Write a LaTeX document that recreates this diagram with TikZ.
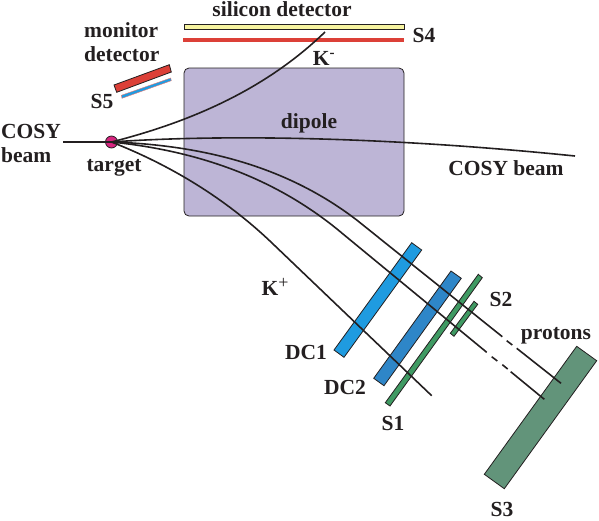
\documentclass[tikz,border=0pt]{standalone}
\usepackage{fontspec}
\setmainfont{Liberation Serif}
\usepackage{tikz}
\usetikzlibrary{calc,positioning}

\definecolor{dipolecol}{HTML}{BDB5D6}
\definecolor{redcol}{HTML}{DC4038}
\definecolor{yellowcol}{HTML}{F6F3A0}
\definecolor{dcone}{HTML}{1F9BE0}
\definecolor{dctwo}{HTML}{2E86C8}
\definecolor{scint}{HTML}{3F9A63}
\definecolor{bigscint}{HTML}{62947A}
\definecolor{targetcol}{HTML}{D6257F}
\definecolor{inkcol}{HTML}{231F20}

\begin{document}
\begin{tikzpicture}[x=1pt,y=-1pt,
    lab/.style={font=\fontsize{21.5}{24}\selectfont\bfseries,text=inkcol,inner sep=0pt,align=left},
    det/.style={draw=inkcol,line width=0.8pt},
    track/.style={draw=inkcol,line width=1.6pt},
    beamline/.style={draw=inkcol,line width=2.2pt}]
  \useasboundingbox (0,0) rectangle (599,520);

  % Dipole and the detectors above it
  \draw[det,fill=dipolecol,rounded corners=5pt] (184,68) rectangle (404,216);
  \draw[det,fill=yellowcol] (184,24) rectangle (404,29.5);
  \fill[redcol] (183,38) rectangle (404,42);

  % Monitor detector
  \draw[det,fill=redcol] (114,85) -- (169.3,64.7) -- (171.3,72) -- (116.7,92.3) -- cycle;
  \draw[draw=redcol!70,line width=0.4pt,fill=dcone] (121.3,95.3) -- (170.7,78) -- (171.3,80.7) -- (122,98.3) -- cycle;

  % Drift chambers and scintillators
  \draw[det,fill=dcone] (411.7,242.7) -- (421.7,250) -- (344,357.3) -- (334,350) -- cycle;
  \draw[det,fill=dctwo] (451,271) -- (461.3,278.3) -- (384,385.7) -- (373.7,378.3) -- cycle;
  \draw[det,fill=scint] (478.3,274.3) -- (482.3,277.7) -- (390,406) -- (385.3,402.7) -- cycle;
  \draw[det,fill=scint] (474,301.3) -- (477.7,304.3) -- (454,336.3) -- (450.3,333.3) -- cycle;
  \draw[det,fill=bigscint] (576.7,346.3) -- (596.7,360.7) -- (504.3,488.7) -- (484.3,474.3) -- cycle;

  % Target
  \node[circle,draw=inkcol,line width=0.8pt,fill=targetcol,minimum size=12pt,inner sep=0pt] (target) at (111.5,142) {};
  \coordinate (beamin) at (63,142);
  \coordinate (beamout) at (575,156);
  \coordinate (kminus) at (325,32);
  \coordinate (kplus) at (431.7,395.7);

  % Beam
  \draw[beamline] (beamin) -- (target.center);
  \draw[track] (target.center) .. controls (180,137) and (340,132) .. (beamout);

  % K- and K+
  \draw[track] (target.center) .. controls (190,122) and (265,90) .. (kminus);
  \draw[track] (target.center) .. controls (170,165) and (225,198) .. (272,243) -- (kplus);

  % Protons, with a break before S3
  \coordinate (pupa) at (502.3,336.7);
  \coordinate (pupb) at (506.7,340.7);
  \coordinate (pupc) at (512.3,345);
  \coordinate (pupd) at (516.7,348.3);
  \coordinate (pupe) at (561,383.3);
  \coordinate (ploa) at (486.7,352.3);
  \coordinate (plob) at (491.7,356.7);
  \coordinate (ploc) at (497.3,361);
  \coordinate (plod) at (502.3,364.7);
  \coordinate (ploe) at (507.7,369);
  \coordinate (plof) at (510.7,371.7);
  \coordinate (plog) at (544.3,399.3);
  \draw[track] (target.center) .. controls (200,145) and (285,165) .. (356.7,220) -- (pupa);
  \draw[track] (pupb) -- (pupc);
  \draw[track] (pupd) -- (pupe);
  \draw[track] (target.center) .. controls (190,150) and (272,174) .. (343,234) -- (ploa);
  \draw[track] (plob) -- (ploc);
  \draw[track] (plod) -- (ploe);
  \draw[track] (plof) -- (plog);

  % Labels
  \node[lab] (silicon) at (282,9) {silicon detector};
  \node[lab] (sfour) at (424,35) {S4};
  \node[lab] (kminuslab) at (324,58) {K\textsuperscript{-}};
  \node[lab,anchor=west] (monitor) at (84,30) {monitor};
  \node[lab,anchor=west] (mondet) at (84,54) {detector};
  \node[lab] (sfive) at (102,101) {S5};
  \node[lab,anchor=west] (cosya) at (1,131) {COSY};
  \node[lab,anchor=west] (cosyb) at (1,155) {beam};
  \node[lab] (targetlab) at (114,168) {target};
  \node[lab] (dipole) at (309,123) {dipole};
  \node[lab] (cosyright) at (506,168) {COSY beam};
  \node[lab] (kpluslab) at (275,287) {K\raisebox{7pt}{\fontsize{18}{18}\mdseries +}};
  \node[lab] (stwo) at (501,299) {S2};
  \node[lab] (protons) at (556,336) {protons};
  \node[lab] (dcfirst) at (306,352) {DC1};
  \node[lab] (dcsecond) at (345,387) {DC2};
  \node[lab] (sone) at (393,423) {S1};
  \node[lab] (sthree) at (502,509.5) {S3};
\end{tikzpicture}
\end{document}
